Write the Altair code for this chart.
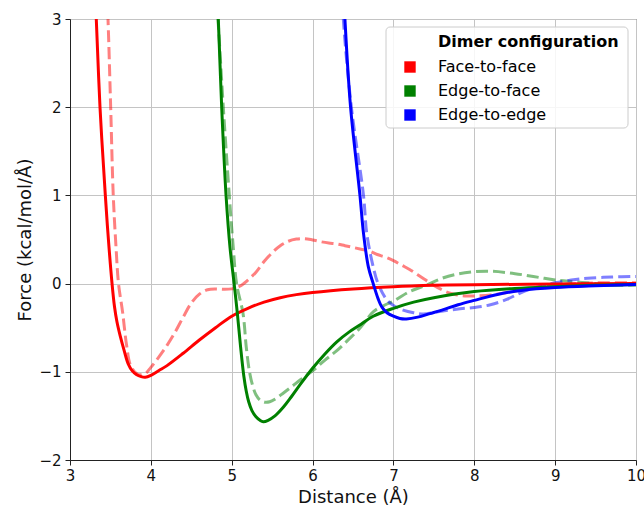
import altair as alt
import pandas as pd

# Dimer configurations and their colours
configs = ["Face-to-face", "Edge-to-face", "Edge-to-edge"]
colors = ["#ff0000", "#008000", "#0000ff"]
legend_title = ["Dimer configuration"]

# Face-to-face: fitted model (solid) and reference (dashed)
ff_model_x = [3.30, 3.325, 3.371, 3.437, 3.475, 3.52, 3.55, 3.58, 3.62, 3.67, 3.72, 3.77, 3.82, 3.88,
              3.93, 4.0, 4.1, 4.2, 4.4, 4.6, 4.8, 5.0, 5.2, 5.4, 5.6, 5.8, 6.0, 6.5, 7.0, 7.5, 8.0, 9.0,
              10.0]
ff_model_y = [3.45, 3.0, 2.0, 1.0, 0.5, 0.0, -0.26, -0.43, -0.59, -0.76, -0.91, -0.99, -1.03, -1.055,
              -1.062, -1.04, -0.985, -0.93, -0.79, -0.64, -0.50, -0.37, -0.28, -0.21, -0.16, -0.125,
              -0.10, -0.06, -0.035, -0.02, -0.012, -0.005, 0.0]
ff_ref_x = [3.45, 3.47, 3.503, 3.535, 3.57, 3.60, 3.65, 3.70, 3.75, 3.84, 3.93, 4.0, 4.1, 4.2, 4.3, 4.4,
            4.5, 4.6, 4.7, 4.8, 4.9, 5.0, 5.1, 5.2, 5.3, 5.4, 5.5, 5.6, 5.7, 5.8, 5.9, 6.0, 6.1, 6.2, 6.3,
            6.4, 6.5, 6.6, 6.7, 6.8, 6.9, 7.0, 7.1, 7.2, 7.3, 7.4, 7.5, 7.6, 7.7, 7.8, 7.9, 8.0, 8.2,
            8.4, 8.6, 8.8, 9.0, 9.3, 9.6, 10.0]
ff_ref_y = [3.45, 3.0, 2.0, 1.0, 0.4, 0.0, -0.32, -0.70, -0.93, -1.03, -1.02, -0.95, -0.83, -0.70, -0.55,
            -0.38, -0.22, -0.12, -0.07, -0.06, -0.065, -0.06, -0.03, 0.04, 0.13, 0.25, 0.35, 0.43, 0.48,
            0.505, 0.51, 0.495, 0.475, 0.46, 0.45, 0.43, 0.41, 0.39, 0.37, 0.33, 0.30, 0.26, 0.21, 0.16,
            0.10, 0.04, -0.02, -0.07, -0.11, -0.13, -0.14, -0.14, -0.13, -0.10, -0.07, -0.04, -0.02, 0.0,
            0.01, 0.01]

# Edge-to-face
ef_model_x = [4.81, 4.834, 4.876, 4.93, 4.98, 5.03, 5.07, 5.11, 5.15, 5.18, 5.21, 5.25, 5.30, 5.35,
              5.39, 5.45, 5.535, 5.64, 5.74, 5.85, 6.0, 6.15, 6.3, 6.45, 6.6, 6.75, 7.0, 7.25, 7.5, 8.0,
              8.5, 9.0, 9.5, 10.0]
ef_model_y = [3.4, 3.0, 2.0, 1.0, 0.4, 0.0, -0.34, -0.72, -1.05, -1.22, -1.34, -1.44, -1.51, -1.55,
              -1.566, -1.55, -1.50, -1.40, -1.28, -1.14, -0.96, -0.80, -0.66, -0.55, -0.46, -0.37, -0.28,
              -0.21, -0.16, -0.09, -0.055, -0.035, -0.02, -0.01]
ef_ref_x = [4.80, 4.83, 4.896, 4.97, 5.02, 5.06, 5.14, 5.18, 5.22, 5.26, 5.30, 5.35, 5.41, 5.47, 5.535,
            5.64, 5.74, 5.85, 6.0, 6.15, 6.3, 6.45, 6.6, 6.75, 6.9, 7.0, 7.2, 7.4, 7.6, 7.8, 8.0, 8.2, 8.4,
            8.6, 8.8, 9.0, 9.25, 9.5, 9.75, 10.0]
ef_ref_y = [3.4, 3.0, 2.0, 1.0, 0.4, 0.0, -0.34, -0.72, -1.0, -1.16, -1.26, -1.32, -1.345, -1.34, -1.31,
            -1.24, -1.17, -1.09, -0.99, -0.87, -0.76, -0.63, -0.49, -0.32, -0.24, -0.20, -0.09, -0.02,
            0.06, 0.11, 0.135, 0.14, 0.125, 0.10, 0.07, 0.04, 0.02, 0.0, -0.015, -0.02]

# Edge-to-edge
ee_model_x = [6.38, 6.40, 6.47, 6.586, 6.63, 6.69, 6.75, 6.81, 6.86, 6.92, 7.0, 7.08, 7.16, 7.3, 7.45,
              7.6, 7.8, 8.0, 8.3, 8.6, 9.0, 9.5, 10.0]
ee_model_y = [3.4, 3.0, 2.0, 1.0, 0.57, 0.19, 0.0, -0.17, -0.27, -0.33, -0.37, -0.395, -0.40, -0.38,
              -0.34, -0.30, -0.24, -0.19, -0.12, -0.075, -0.045, -0.025, -0.01]
ee_ref_x = [6.36, 6.38, 6.48, 6.63, 6.67, 6.75, 6.81, 6.92, 7.02, 7.12, 7.25, 7.37, 7.55, 7.78, 8.0,
            8.2, 8.4, 8.56, 8.7, 8.85, 9.0, 9.2, 9.4, 9.7, 10.0]
ee_ref_y = [3.4, 3.0, 2.0, 1.0, 0.57, 0.19, 0.0, -0.186, -0.26, -0.30, -0.33, -0.345, -0.32, -0.29,
            -0.27, -0.24, -0.18, -0.11, -0.06, -0.02, 0.01, 0.04, 0.06, 0.075, 0.08]

x_ticks = [3, 4, 5, 6, 7, 8, 9, 10]
y_ticks = [-2, -1, 0, 1, 2, 3]


def frame(name, kind, xs, ys):
    return pd.DataFrame({"config": name, "kind": kind, "x": xs, "y": ys})


data = pd.concat([
    frame(configs[0], "model", ff_model_x, ff_model_y),
    frame(configs[0], "reference", ff_ref_x, ff_ref_y),
    frame(configs[1], "model", ef_model_x, ef_model_y),
    frame(configs[1], "reference", ef_ref_x, ef_ref_y),
    frame(configs[2], "model", ee_model_x, ee_model_y),
    frame(configs[2], "reference", ee_ref_x, ee_ref_y),
], ignore_index=True)

color_scale = alt.Scale(domain=configs, range=colors)
x_enc = alt.X("x:Q", scale=alt.Scale(domain=[3, 10], nice=False),
              axis=alt.Axis(values=x_ticks, title="Distance (Å)", format="d", labelPadding=3,
                            labelFlush=False))
y_enc = alt.Y("y:Q", scale=alt.Scale(domain=[-2, 3], nice=False),
              axis=alt.Axis(values=y_ticks, title="Force (kcal/mol/Å)", format="d", labelPadding=4,
                            labelFlush=False))

base = alt.Chart(data)

dashed = base.transform_filter(alt.datum.kind == "reference").mark_line(
    clip=True, strokeWidth=3, strokeDash=[12, 5], opacity=0.5, interpolate="catmull-rom"
).encode(x=x_enc, y=y_enc, color=alt.Color("config:N", scale=color_scale, legend=None), detail="config:N")

solid = base.transform_filter(alt.datum.kind == "model").mark_line(
    clip=True, strokeWidth=3, interpolate="catmull-rom"
).encode(x=x_enc, y=y_enc, color=alt.Color("config:N", scale=color_scale, legend=None), detail="config:N")

# Legend frame and heading
legend_box = alt.Chart(pd.DataFrame({"t": legend_title})).mark_rect(
    fill="white", fillOpacity=0.85, stroke="#cccccc", strokeWidth=1, cornerRadius=4
).encode(x=alt.value(316), x2=alt.value(558), y=alt.value(8), y2=alt.value(109))

legend_head = alt.Chart(pd.DataFrame({"t": legend_title})).mark_text(
    align="left", baseline="middle", fontWeight="bold", fontSize=16, color="black", font="DejaVu Sans"
).encode(x=alt.value(368), y=alt.value(23), text="t:N")

# Square swatches carry the configuration legend (no points drawn)
swatches = base.transform_filter("datum.y > 100").mark_square(filled=True, opacity=1).encode(
    x=x_enc, y=y_enc,
    fill=alt.Fill("config:N", scale=alt.Scale(domain=configs, range=colors), legend=alt.Legend(
        title=None, orient="none", legendX=332, legendY=40, symbolType="square", symbolSize=130,
        labelFontSize=16, labelOffset=20, rowPadding=8, padding=0, labelColor="black",
        labelFont="DejaVu Sans", symbolStrokeWidth=0, symbolOpacity=1)),
)

chart = alt.layer(dashed, solid, legend_box, legend_head, swatches).resolve_scale(
    color="shared", fill="independent"
).properties(
    width=566, height=441,
    autosize=alt.AutoSizeParams(type="none"),
    padding={"left": 70, "top": 19, "right": 8, "bottom": 48},
).configure(font="DejaVu Sans").configure_view(
    stroke="#333333", strokeWidth=1
).configure_axis(
    grid=True, gridColor="#c4c4c4", gridWidth=1,
    domainColor="#222222", domainWidth=1, tickColor="#222222", tickSize=5, tickWidth=1,
    labelFontSize=15, labelColor="#111111",
    titleFontSize=18, titleFontWeight="normal", titleColor="#111111",
).configure_axisX(titlePadding=5).configure_axisY(titlePadding=4)

chart.save("out.html", embed_options={"renderer": "svg", "actions": False})
